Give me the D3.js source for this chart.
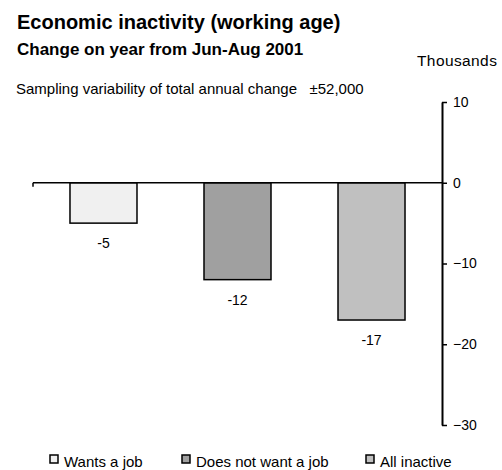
<!DOCTYPE html>
<html>
<head>
<meta charset="utf-8">
<script src="https://cdn.jsdelivr.net/npm/d3@7"></script>
<style>
  body { margin: 0; background: #fff; }
  text { font-family: "Liberation Sans", Arial, sans-serif; fill: #000; }
</style>
</head>
<body>
<div id="vis"></div>
<script>
// chart data
const CATEGORIES = ["Wants a job", "Does not want a job", "All inactive"];
const VALUES = [-5, -12, -17];
const COLOURS = ["#f0f0f0", "#a0a0a0", "#c0c0c0"];
const Y_TICKS = [10, 0, -10, -20, -30];

const FRAME_WIDTH = 502;
const FRAME_HEIGHT = 470;

const svg = d3.select("#vis")
  .append("svg")
    .attr("width", FRAME_WIDTH)
    .attr("height", FRAME_HEIGHT);

// titles
svg.append("text").attr("x", 17).attr("y", 29)
  .attr("font-size", "20px").attr("font-weight", "bold")
  .text("Economic inactivity (working age)");
svg.append("text").attr("x", 17).attr("y", 55)
  .attr("font-size", "17px").attr("font-weight", "bold")
  .text("Change on year from Jun-Aug 2001");
svg.append("text").attr("x", 417).attr("y", 66)
  .attr("font-size", "15.5px")
  .attr("letter-spacing", "0.4px")
  .text("Thousands");
svg.append("text").attr("x", 16).attr("y", 94)
  .attr("font-size", "15px")
  .attr("xml:space", "preserve")
  .text("Sampling variability of total annual change   \u00B152,000");

// scales
const X_SCALE = d3.scaleBand()
  .domain(CATEGORIES)
  .range([33, 442])
  .paddingInner(0.5)
  .paddingOuter(0.276);

const Y_SCALE = d3.scaleLinear()
  .domain([-30, 10])
  .range([425, 102]);

// bars
svg.append("g")
  .selectAll("rect")
  .data(VALUES)
  .enter()
  .append("rect")
    .attr("x", (d, i) => X_SCALE(CATEGORIES[i]))
    .attr("y", (d) => Y_SCALE(Math.max(0, d)))
    .attr("width", X_SCALE.bandwidth())
    .attr("height", (d) => Math.abs(Y_SCALE(d) - Y_SCALE(0)))
    .attr("fill", (d, i) => COLOURS[i])
    .attr("stroke", "#000")
    .attr("stroke-width", 1.5);

// value labels
svg.append("g")
  .selectAll("text")
  .data(VALUES)
  .enter()
  .append("text")
    .attr("x", (d, i) => X_SCALE(CATEGORIES[i]) + X_SCALE.bandwidth() / 2)
    .attr("y", (d) => Y_SCALE(d) + 25)
    .attr("text-anchor", "middle")
    .attr("font-size", "14px")
    .text((d) => d);

// zero line with small tick at left end
svg.append("line")
  .attr("x1", 33).attr("x2", 442)
  .attr("y1", Y_SCALE(0)).attr("y2", Y_SCALE(0))
  .attr("stroke", "#000").attr("stroke-width", 1.5);
svg.append("line")
  .attr("x1", 33).attr("x2", 33)
  .attr("y1", Y_SCALE(0)).attr("y2", Y_SCALE(0) + 4)
  .attr("stroke", "#000").attr("stroke-width", 1.5);

// y axis on the right
const yAxis = svg.append("g")
  .attr("transform", "translate(442,0)")
  .call(d3.axisRight(Y_SCALE).tickValues(Y_TICKS).tickSize(5).tickSizeOuter(0).tickPadding(6));
yAxis.select(".domain").attr("stroke-width", 2);
yAxis.selectAll("line").attr("stroke-width", 1.5);
yAxis.selectAll("text")
  .attr("font-size", "14px")
  .attr("font-family", "'Liberation Sans', Arial, sans-serif");

// legend
const LEGEND_X = [50, 182, 366];
const legend = svg.append("g")
  .selectAll("g")
  .data(CATEGORIES)
  .enter()
  .append("g")
    .attr("transform", (d, i) => "translate(" + LEGEND_X[i] + ",455)");
legend.append("rect")
  .attr("width", 8).attr("height", 8)
  .attr("fill", (d, i) => COLOURS[i])
  .attr("stroke", "#000").attr("stroke-width", 1.5);
legend.append("text")
  .attr("x", 14).attr("y", 12)
  .attr("font-size", "15px")
  .text((d) => d);
</script>
</body>
</html>
